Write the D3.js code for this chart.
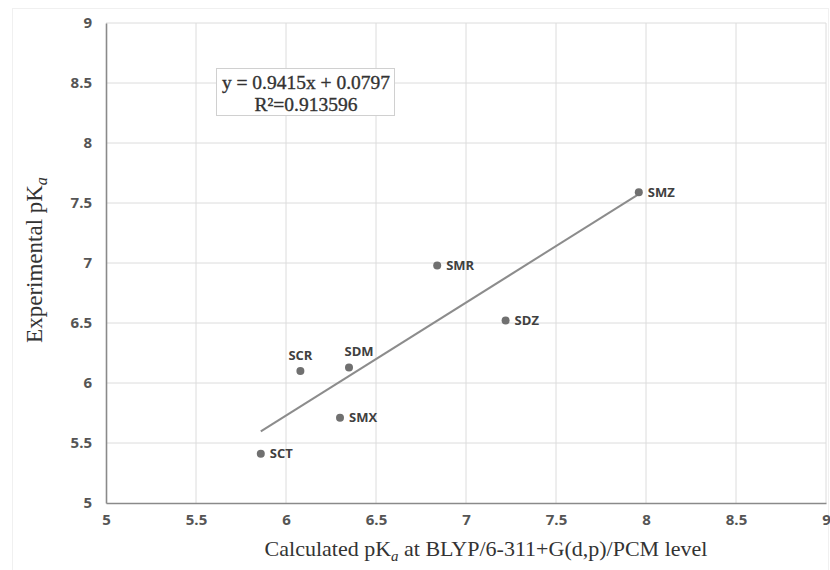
<!DOCTYPE html>
<html>
<head>
<meta charset="utf-8">
<script src="https://cdn.jsdelivr.net/npm/d3@7"></script>
<style>
  body { margin: 0; background: #fff; }
  svg { display: block; }
</style>
</head>
<body>
<div id="chart"></div>
<script>
//// Data
const compounds = ["SCT", "SCR", "SDM", "SMX", "SMR", "SDZ", "SMZ"]
const calculated = [5.86, 6.08, 6.35, 6.30, 6.84, 7.22, 7.96]
const experimental = [5.41, 6.10, 6.13, 5.71, 6.98, 6.52, 7.59]
const ticks = [5, 5.5, 6, 6.5, 7, 7.5, 8, 8.5, 9]
const fit_slope = 0.9415
const fit_intercept = 0.0797
const fit_r2 = "0.913596"

//// Layout
const W = 830, H = 570
const plot = {left: 106, right: 826, top: 23, bottom: 503}
const GRID_COLOR = "#dcdcdc"
const AXIS_COLOR = "#8a8a8a"
const POINT_COLOR = "#707070"
const LINE_COLOR = "#8c8c8c"
const TICK_FONT = "'Open Sans', 'Noto Sans', sans-serif"
const SERIF = "'Liberation Serif', 'DejaVu Serif', serif"

// labels that sit above their point instead of to the right
const labels_above = {"SCR": 0, "SDM": 10}

const points = compounds.map((c, i) => ({name: c, x: calculated[i], y: experimental[i]}))

const svg = d3.select("#chart")
    .append("svg")
        .attr("width", W)
        .attr("height", H)

// faint outer frame of the chart area
svg.append("rect")
    .attr("x", 12.5).attr("y", 8.5)
    .attr("width", W - 14).attr("height", H - 6)
    .attr("fill", "none")
    .attr("stroke", "#f0f0f0")

var x = d3.scaleLinear()
    .domain([5, 9])
    .range([plot.left, plot.right])

var y = d3.scaleLinear()
    .domain([5, 9])
    .range([plot.bottom, plot.top])

// Gridlines
svg.append("g")
    .selectAll("line")
        .data(ticks.slice(1))
        .enter()
        .append("line")
            .attr("x1", d => x(d)).attr("x2", d => x(d))
            .attr("y1", plot.top).attr("y2", plot.bottom)
            .attr("stroke", GRID_COLOR)
            .attr("stroke-width", 1)

svg.append("g")
    .selectAll("line")
        .data(ticks.slice(1))
        .enter()
        .append("line")
            .attr("x1", plot.left).attr("x2", plot.right)
            .attr("y1", d => y(d)).attr("y2", d => y(d))
            .attr("stroke", GRID_COLOR)
            .attr("stroke-width", 1)

// Axes
var x_axis = svg.append("g")
    .attr("transform", "translate(0," + plot.bottom + ")")
    .call(d3.axisBottom(x).tickValues(ticks).tickSize(0).tickPadding(10).tickFormat(d3.format("")))
var y_axis = svg.append("g")
    .attr("transform", "translate(" + plot.left + ",0)")
    .call(d3.axisLeft(y).tickValues(ticks).tickSize(0).tickPadding(14).tickFormat(d3.format("")))

;[x_axis, y_axis].forEach(a => {
    a.select(".domain")
        .attr("stroke", AXIS_COLOR)
        .attr("stroke-width", 1.6)
    a.selectAll("text")
        .attr("fill", "#555")
        .style("font-family", TICK_FONT)
        .style("font-size", "15px")
        .style("font-weight", "bold")
})
x_axis.selectAll("text").attr("dy", "0.8em")

// Trendline
const fit_x = d3.extent(calculated)
svg.append("line")
    .attr("x1", x(fit_x[0]))
    .attr("y1", y(fit_slope * fit_x[0] + fit_intercept))
    .attr("x2", x(fit_x[1]))
    .attr("y2", y(fit_slope * fit_x[1] + fit_intercept))
    .attr("stroke", LINE_COLOR)
    .attr("stroke-width", 2)

// Points
svg.append("g")
    .selectAll("circle")
        .data(points)
        .enter()
        .append("circle")
            .attr("cx", d => x(d.x))
            .attr("cy", d => y(d.y))
            .attr("r", 4)
            .attr("fill", POINT_COLOR)

// Point labels
svg.append("g")
    .selectAll("text")
        .data(points)
        .enter()
        .append("text")
            .attr("x", d => d.name in labels_above ? x(d.x) + labels_above[d.name] : x(d.x) + 9)
            .attr("y", d => d.name in labels_above ? y(d.y) - 16 : y(d.y))
            .attr("dy", "0.35em")
            .attr("text-anchor", d => d.name in labels_above ? "middle" : "start")
            .attr("fill", "#404040")
            .style("font-family", TICK_FONT)
            .style("font-size", "13px")
            .style("font-weight", "bold")
            .text(d => d.name)

// Equation box
const eq = svg.append("g")
    .attr("fill", "#333")
    .style("font-family", SERIF)
    .style("font-size", "19.5px")
eq.append("rect")
    .attr("x", 216.5).attr("y", 68.5)
    .attr("width", 178).attr("height", 47)
    .attr("fill", "#fff")
    .attr("stroke", "#d0d0d0")
eq.append("text")
    .attr("x", 306).attr("y", 89)
    .attr("text-anchor", "middle")
    .attr("stroke", "#333")
    .attr("stroke-width", 0.35)
    .text("y = " + fit_slope + "x + " + fit_intercept)
eq.append("text")
    .attr("x", 306).attr("y", 111)
    .attr("text-anchor", "middle")
    .attr("stroke", "#333")
    .attr("stroke-width", 0.35)
    .text("R\u00b2=" + fit_r2)

// Axis titles
const x_title = svg.append("text")
    .attr("x", 486)
    .attr("y", 556)
    .attr("text-anchor", "middle")
    .attr("fill", "#333")
    .style("font-family", SERIF)
    .style("font-size", "22px")
x_title.append("tspan").text("Calculated pK")
x_title.append("tspan").attr("dy", 5).attr("font-size", "15px").attr("font-style", "italic").text("a")
x_title.append("tspan").attr("dy", -5).text(" at BLYP/6-311+G(d,p)/PCM level")

const y_title = svg.append("text")
    .attr("transform", "translate(42,260) rotate(-90)")
    .attr("text-anchor", "middle")
    .attr("fill", "#333")
    .style("font-family", SERIF)
    .style("font-size", "23px")
y_title.append("tspan").text("Experimental pK")
y_title.append("tspan").attr("dy", 5).attr("font-size", "16px").attr("font-style", "italic").text("a")
</script>
</body>
</html>
